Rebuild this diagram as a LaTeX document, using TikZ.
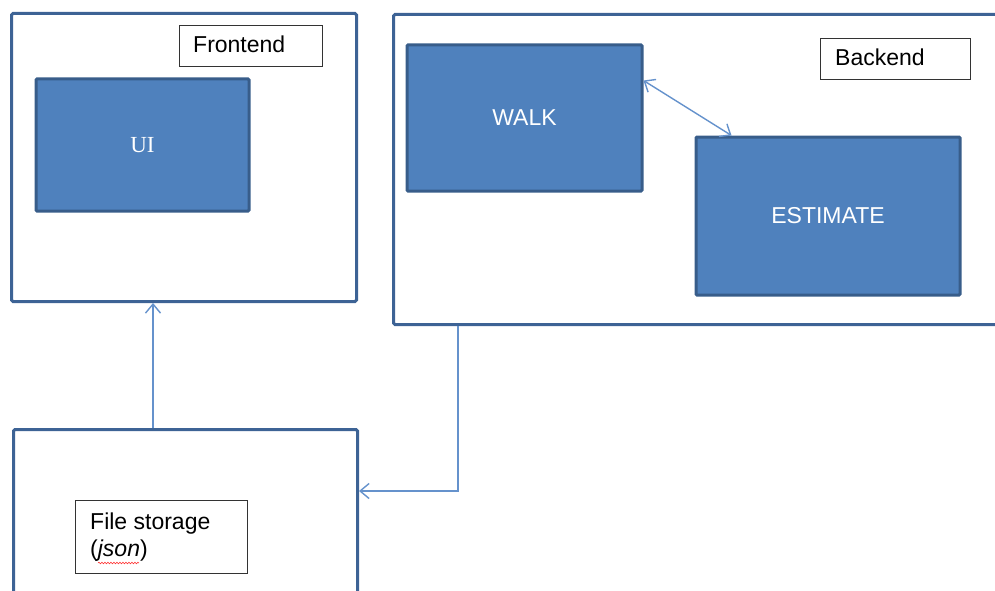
\documentclass[tikz,border=0pt]{standalone}
\usepackage{fontspec}
\setmainfont{Liberation Sans}
\newfontfamily\serifUI{Liberation Serif}
\usetikzlibrary{arrows.meta,decorations.pathmorphing}
\definecolor{outerc}{HTML}{3D6395}
\definecolor{fillc}{HTML}{4F81BD}
\definecolor{innerc}{HTML}{385D8A}
\definecolor{connc}{HTML}{6592CC}
\tikzset{
  outerbox/.style={draw=outerc, line width=3pt, rounded corners=1.5pt, fill=none, inner sep=0pt, anchor=north west},
  bluebox/.style={draw=innerc, fill=fillc, line width=3pt, rounded corners=1pt, inner sep=0pt, text=white, font=\fontsize{23}{27}\selectfont},
  labelbox/.style={draw=black!80, fill=white, line width=1.2pt, inner sep=0pt, anchor=north west},
  labeltext/.style={anchor=base west, inner sep=0pt, font=\fontsize{23}{27}\selectfont},
  barb/.tip={Straight Barb[length=9pt,width=15pt,line width=1.4pt]},
  conn/.style={draw=connc, line width=1.4pt, arrows={-barb}},
}
\begin{document}
\begin{tikzpicture}[x=1pt,y=-1pt]
\useasboundingbox (0,0) rectangle (995,591);
\clip (0,0) rectangle (995,591);
% Frontend
\node[outerbox, minimum width=345pt, minimum height=288pt] (fe) at (10,12) {};
\node[labelbox, minimum width=143pt, minimum height=41pt] (felab) at (179,25) {};
\node[labeltext] (fetext) at (193,53) {Frontend};
\node[bluebox, minimum width=213pt, minimum height=132pt, font=\serifUI\fontsize{23}{27}\selectfont] (ui) at (142.5,145) {UI};
% Backend
\node[outerbox, minimum width=620pt, minimum height=310pt] (be) at (392,13) {};
\node[labelbox, minimum width=150pt, minimum height=41pt] (belab) at (820,38) {};
\node[labeltext] (betext) at (835,66) {Backend};
\node[bluebox, minimum width=235pt, minimum height=146pt] (walk) at (524.5,118) {WALK};
\node[bluebox, minimum width=264pt, minimum height=158pt] (est) at (828,216) {ESTIMATE};
% File storage
\node[outerbox, minimum width=344pt, minimum height=180pt] (fs) at (12,428) {};
\node[labelbox, minimum width=172pt, minimum height=73pt] (fslab) at (75,500) {};
\node[labeltext] (fst1) at (90,529) {File storage};
\node[labeltext] (fst2) at (90,556) {(\textit{json})};
\draw[red!80, line width=0.6pt, decorate, decoration={snake, amplitude=0.8pt, segment length=3pt}]
  ([xshift=8pt,yshift=-7pt]fst2.base west) coordinate (sq1) -- ([xshift=-9pt,yshift=-7pt]fst2.base east) coordinate (sq2);
% Connectors
\draw[conn, arrows={barb-barb}]
  ([yshift=-37pt]walk.north east) -- ([xshift=37pt]est.north west);
\draw[conn] ([xshift=141pt]fs.north west) -- ([xshift=143pt]fe.south west);
\draw[conn] ([xshift=66pt]be.south west) |- ([yshift=-63pt]fs.north east);
\end{tikzpicture}
\end{document}
